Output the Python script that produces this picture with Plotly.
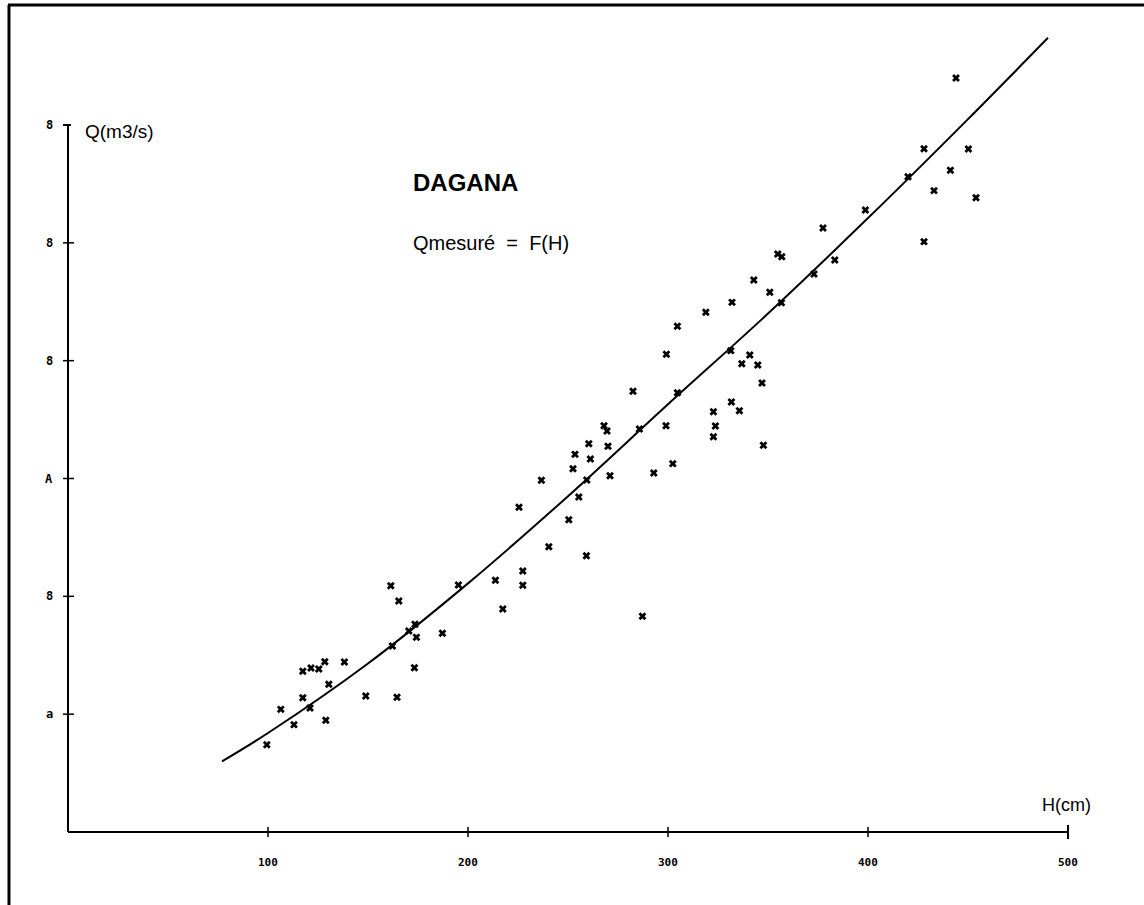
import plotly.graph_objects as go

# Measured points: H (cm), Q (m3/s)
H_mes = [99.4, 106.4, 113.0, 117.4, 117.4, 121.5, 125.4, 128.4, 128.9, 130.4,
         138.2, 148.9, 161.4, 162.2, 164.5, 165.4, 170.4, 173.5, 174.2, 173.2,
         187.2, 195.2, 121.0, 213.7, 217.4, 225.5, 227.4, 227.4, 236.7, 240.4,
         250.4, 252.5, 253.5, 255.4, 259.4, 259.2, 260.4, 261.2, 268.0, 269.5,
         270.0, 271.0, 285.7, 287.2, 292.9, 299.0, 302.4, 322.7, 323.7, 322.7,
         282.5, 299.2, 304.7, 304.7, 318.9, 331.4, 332.0, 331.7, 335.7, 336.9,
         340.9, 342.9, 344.9, 347.0, 347.7, 350.9, 354.9, 356.9, 356.7, 373.0,
         377.5, 383.4, 398.7, 420.0, 428.0, 428.0, 433.0, 441.2, 444.0, 450.2,
         454.0]
Q_mes = [74.1, 104.1, 91.1, 136.4, 114.0, 139.2, 138.3, 144.5, 94.8, 125.4,
         144.3, 115.4, 209.0, 157.9, 114.3, 196.0, 170.6, 176.3, 165.2, 139.4,
         168.6, 209.6, 105.2, 213.6, 189.3, 275.6, 221.5, 209.4, 298.5, 242.1,
         265.0, 308.3, 320.5, 284.3, 298.7, 234.5, 329.5, 316.6, 344.8, 340.3,
         327.3, 302.4, 342.0, 183.1, 304.7, 344.8, 312.6, 356.7, 344.6, 335.5,
         374.0, 405.4, 429.2, 372.8, 441.1, 408.5, 449.5, 364.9, 357.5, 397.4,
         404.8, 468.5, 396.3, 381.1, 328.2, 458.0, 490.5, 488.2, 449.2, 473.6,
         512.6, 485.4, 527.9, 556.1, 579.9, 501.0, 544.3, 561.6, 639.9, 579.6,
         538.3]

# Rating curve Q = F(H)
H_curve = [77, 100, 150, 200, 250, 300, 350, 400, 450, 490]
Q_curve = [60, 84, 143, 211, 285, 363, 440, 521, 605, 674]

x_ticks = [100, 200, 300, 400, 500]
x_ticklabels = ["100", "200", "300", "400", "500"]
y_ticks = [100, 200, 300, 400, 500, 600]
y_ticklabels = ["a", "8", "A", "8", "8", "8"]

# pixel geometry: 2 px per cm, 1.1783 px per m3/s
PX_X = 2.0
PX_Y = 707 / 600.0
L, R, T, B = 38, 56, 5, 63
W, Hh = 1144, 905
x_range = [(L - 68) / PX_X, (W - R - 68) / PX_X]
y_range = [(832 - (Hh - B)) / PX_Y, (832 - T) / PX_Y]


def px_to_paper_x(px):
    return (px - L) / (W - L - R)


def px_to_paper_y(py):
    return ((Hh - B) - py) / (Hh - T - B)


fig = go.Figure()
fig.add_trace(go.Scatter(x=H_curve, y=Q_curve, mode="lines",
                         line=dict(color="black", width=2, shape="spline", smoothing=1.0),
                         hoverinfo="skip", showlegend=False))
fig.add_trace(go.Scatter(x=H_mes, y=Q_mes, mode="markers",
                         marker=dict(symbol="x", size=7, color="black",
                                     line=dict(width=0)),
                         showlegend=False, cliponaxis=False))

shapes = []
line_style = dict(color="black", width=2)
# axes
shapes.append(dict(type="line", xref="x", yref="y", x0=0, x1=500, y0=0, y1=0, line=line_style))
shapes.append(dict(type="line", xref="x", yref="y", x0=0, x1=0, y0=0, y1=600, line=line_style))
# x ticks (crossing)
for v in x_ticks:
    half = (7 if v == x_ticks[-1] else 5) / PX_Y
    shapes.append(dict(type="line", xref="x", yref="y", x0=v, x1=v, y0=-half, y1=half,
                       line=dict(color="black", width=1.5 if v != x_ticks[-1] else 2)))
# y ticks
for v in y_ticks:
    if v == y_ticks[-1]:
        x0, x1 = -5 / PX_X, 3 / PX_X
        w = 2
    else:
        x0, x1 = -5 / PX_X, 6 / PX_X
        w = 1.5
    shapes.append(dict(type="line", xref="x", yref="y", x0=x0, x1=x1, y0=v, y1=v,
                       line=dict(color="black", width=w)))

# page frame (top and left edges)
shapes.append(dict(type="line", xref="paper", yref="paper",
                   x0=px_to_paper_x(8), x1=px_to_paper_x(1144),
                   y0=px_to_paper_y(5), y1=px_to_paper_y(5),
                   line=dict(color="black", width=3)))
shapes.append(dict(type="line", xref="paper", yref="paper",
                   x0=px_to_paper_x(9), x1=px_to_paper_x(9),
                   y0=px_to_paper_y(5), y1=px_to_paper_y(905),
                   line=dict(color="black", width=3)))

annotations = []
xtick_font = dict(family="DejaVu Sans Mono", size=11, color="black")
ytick_font = dict(family="DejaVu Sans Mono", size=12, color="black")
for v, t in zip(x_ticks, x_ticklabels):
    annotations.append(dict(x=px_to_paper_x(68 + v * PX_X), y=px_to_paper_y(862),
                            xref="paper", yref="paper", text="<b>%s</b>" % t,
                            showarrow=False, font=xtick_font, xanchor="center", yanchor="middle"))
for v, t in zip(y_ticks, y_ticklabels):
    annotations.append(dict(x=px_to_paper_x(49), y=px_to_paper_y(832 - v * PX_Y),
                            xref="paper", yref="paper", text="<b>%s</b>" % t,
                            showarrow=False, font=ytick_font, xanchor="center", yanchor="middle"))

txt_font = "Liberation Sans, Arial, sans-serif"
annotations.append(dict(x=px_to_paper_x(83), y=px_to_paper_y(131), xref="paper", yref="paper",
                        text="Q(m3/s)", showarrow=False, xanchor="left", yanchor="middle",
                        font=dict(family=txt_font, size=19, color="black")))
annotations.append(dict(x=px_to_paper_x(1066), y=px_to_paper_y(805), xref="paper", yref="paper",
                        text="H(cm)", showarrow=False, xanchor="center", yanchor="middle",
                        font=dict(family=txt_font, size=18, color="black")))
annotations.append(dict(x=px_to_paper_x(465), y=px_to_paper_y(182), xref="paper", yref="paper",
                        text="<b>DAGANA</b>", showarrow=False, xanchor="center", yanchor="middle",
                        font=dict(family=txt_font, size=24, color="black")))
annotations.append(dict(x=px_to_paper_x(491), y=px_to_paper_y(243), xref="paper", yref="paper",
                        text="Qmesuré  =  F(H)", showarrow=False, xanchor="center", yanchor="middle",
                        font=dict(family=txt_font, size=20, color="black")))

fig.update_layout(
    width=W, height=Hh,
    margin=dict(l=L, r=R, t=T, b=B, pad=0),
    paper_bgcolor="white", plot_bgcolor="white",
    xaxis=dict(range=x_range, visible=False, fixedrange=True),
    yaxis=dict(range=y_range, visible=False, fixedrange=True),
    shapes=shapes, annotations=annotations,
    showlegend=False,
)

fig.write_html("out.html", config={"displayModeBar": False},
               post_script="document.body.style.margin='0';document.body.style.overflow='hidden';")
